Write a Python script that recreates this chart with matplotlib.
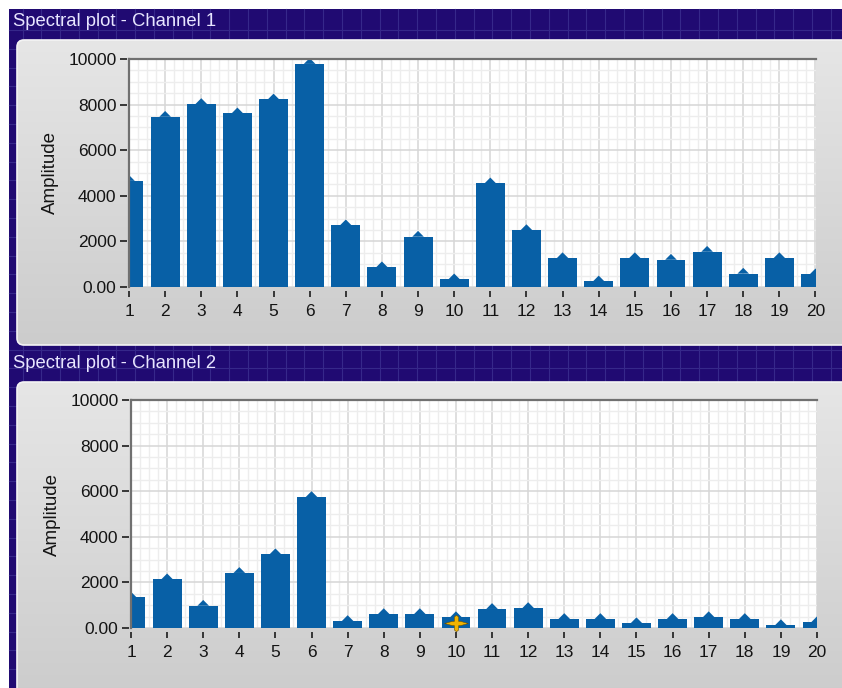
import numpy as np
import matplotlib
matplotlib.use("Agg")
import matplotlib.pyplot as plt
from matplotlib.patches import Rectangle, FancyBboxPatch
from matplotlib.ticker import MultipleLocator, FixedLocator

plt.rcParams['font.family'] = ['Liberation Sans', 'DejaVu Sans']

# spectrum bins and bar heights per channel
bins = np.arange(1, 21)
channel_1 = [4660, 7470, 8030, 7620, 8230, 9790, 2710, 870, 2210, 340,
             4550, 2500, 1270, 250, 1270, 1200, 1550, 590, 1270, 560]
channel_2 = [1340, 2140, 980, 2420, 3240, 5750, 310, 615, 615, 480,
             840, 880, 400, 400, 215, 400, 480, 400, 130, 260]
titles = ["Spectral plot - Channel 1", "Spectral plot - Channel 2"]
y_ticks = [0, 2000, 4000, 6000, 8000, 10000]
y_tick_labels = ["0.00", "2000", "4000", "6000", "8000", "10000"]
cursor_bin = 10
cursor_amp = 200

BAR = "#0860a6"
W, H = 842, 688

fig = plt.figure(figsize=(W / 100, H / 100), dpi=100)
fig.patch.set_facecolor("white")

# window background drawn in pixel coordinates
bg = fig.add_axes([0, 0, 1, 1], zorder=-10)
bg.set_xlim(0, W)
bg.set_ylim(H, 0)
bg.axis("off")
bg.add_patch(Rectangle((9, 9), W, H, facecolor="#200a72", edgecolor="none", zorder=0))
for gx in np.arange(22.5, W, 18.8):
    bg.plot([gx, gx], [9, H], color="#36288a", lw=0.8, zorder=0.5)
for gy in np.arange(30, H, 18.8):
    bg.plot([9, W], [gy, gy], color="#36288a", lw=0.8, zorder=0.5)

grad = np.linspace(0, 1, 256).reshape(-1, 1)
panel_cmap = matplotlib.colors.LinearSegmentedColormap.from_list(
    "panel", ["#e6e6e6", "#cccccc"])
for top, bottom, title, ty in [(40, 345, titles[0], 21), (382, 700, titles[1], 364)]:
    panel = FancyBboxPatch((17, top), W + 20 - 17, bottom - top,
                           boxstyle="round,pad=0,rounding_size=7",
                           facecolor="none", edgecolor="#f4f4f4", lw=1.2, zorder=3)
    bg.add_patch(panel)
    im = bg.imshow(grad, cmap=panel_cmap, aspect="auto",
                   extent=(17, W + 20, bottom, top), zorder=2)
    im.set_clip_path(panel)
    bg.text(13, ty, title, color="#e8e6ff", fontsize=13.3, va="center", ha="left")
bg.set_xlim(0, W)
bg.set_ylim(H, 0)

# cursor glyph: wide horizontal arms, shorter vertical ones
cursor_marker = [(-1.0, 0), (-0.35, 0.18), (-0.18, 0.18), (-0.18, 0.55), (0, 0.7),
                 (0.18, 0.55), (0.18, 0.18), (0.35, 0.18), (1.0, 0), (0.35, -0.18),
                 (0.18, -0.18), (0.18, -0.55), (0, -0.7), (-0.18, -0.55),
                 (-0.18, -0.18), (-0.35, -0.18), (-1.0, 0)]


def spectral_plot(rect, values, cursor=False):
    ax = fig.add_axes(rect)
    ax.set_facecolor("white")
    ax.set_xlim(1, 20)
    ax.set_ylim(0, 10000)

    ax.bar(bins, values, width=0.8, color=BAR, linewidth=0, zorder=3)
    for x, v in zip(bins, values):
        ax.fill([x - 0.16, x, x + 0.16], [v - 5, v + 250, v - 5],
                color=BAR, lw=0, zorder=3)

    ax.xaxis.set_major_locator(FixedLocator(bins))
    ax.xaxis.set_minor_locator(MultipleLocator(0.25))
    ax.yaxis.set_major_locator(FixedLocator(y_ticks))
    ax.yaxis.set_minor_locator(MultipleLocator(500))
    ax.set_yticklabels(y_tick_labels)
    ax.grid(which="minor", color="#ededed", lw=1.0, zorder=0)
    ax.grid(which="major", color="#d6d6d6", lw=1.1, zorder=1)
    ax.set_axisbelow(True)

    for side in ["top", "right", "bottom", "left"]:
        ax.spines[side].set_visible(False)
    ax.spines["bottom"].set_position(("outward", 3))
    ax.spines["left"].set_position(("outward", 1.5))
    ax.tick_params(axis="x", which="major", direction="out", length=4.5,
                   width=1.3, color="#2a2a2a", labelsize=12.5, pad=4.5)
    ax.tick_params(axis="y", which="major", direction="out", length=5,
                   width=1.3, color="#2a2a2a", labelsize=12.5, pad=2.5)
    ax.tick_params(which="minor", length=0)
    for lbl in ax.get_xticklabels() + ax.get_yticklabels():
        lbl.set_color("#141414")

    ax.plot([0, 1], [1, 1], transform=ax.transAxes, color="#707070",
            lw=1.6, clip_on=False, zorder=6)
    ax.plot([0, 0], [0, 1], transform=ax.transAxes, color="#707070",
            lw=1.6, clip_on=False, zorder=6)
    ax.set_ylabel("Amplitude", fontsize=13.5, color="#141414", labelpad=7)

    if cursor:
        ax.plot(cursor_bin, cursor_amp, marker=cursor_marker, ms=17, mfc="#f2b400",
                mec="#6b5000", mew=0.4, zorder=7, clip_on=False)
    return ax


spectral_plot([129 / W, 1 - 287 / H, 686.5 / W, 228 / H], channel_1)
spectral_plot([131 / W, 1 - 628 / H, 686 / W, 228 / H], channel_2, cursor=True)

fig.savefig("out.png", dpi=100)
